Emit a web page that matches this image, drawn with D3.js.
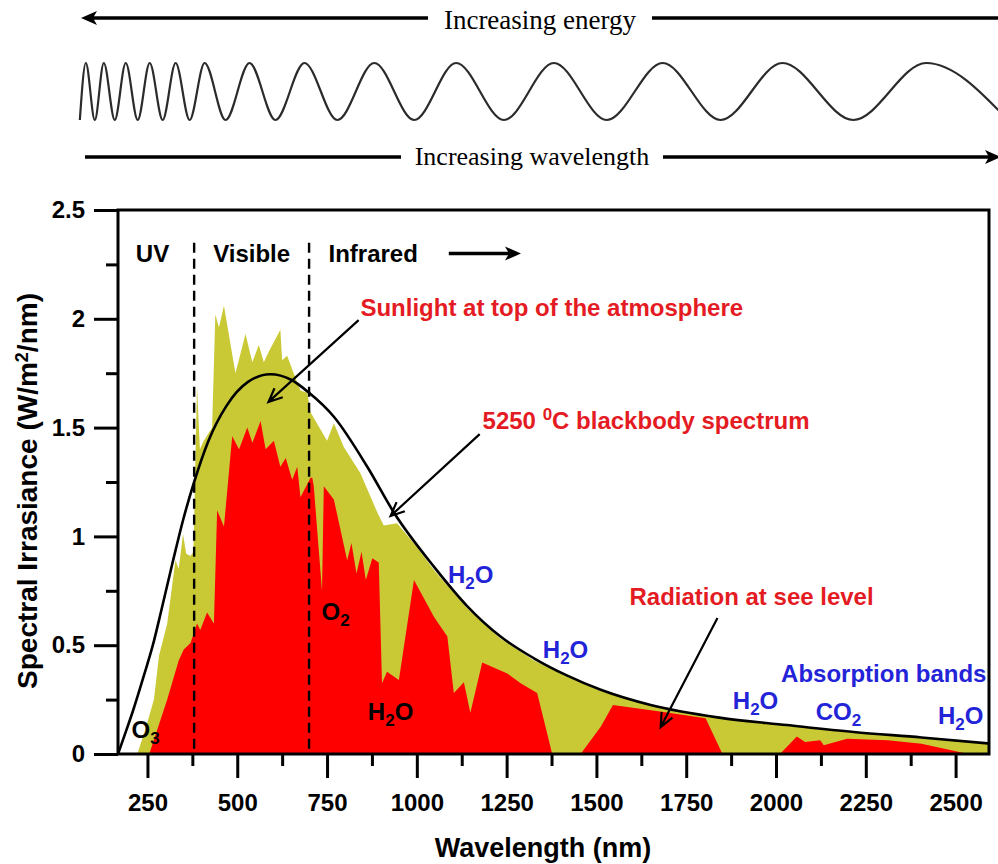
<!DOCTYPE html>
<html>
<head>
<meta charset="utf-8">
<script src="https://cdn.jsdelivr.net/npm/d3@7"></script>
<style>
  html, body { margin: 0; padding: 0; background: #fff; }
  svg { display: block; }
</style>
</head>
<body>
<div id="chart"></div>
<script>
// ---- data ----
// 5250 C blackbody curve (nm, W/m2/nm)
const bbNm  = [168, 185, 210, 240, 265, 290, 320, 350, 380, 420, 470, 530, 592, 650, 700, 769, 862, 936, 1048, 1140, 1233, 1326, 1419, 1512, 1651, 1842, 2030, 2216, 2405, 2600];
const bbVal = [0, 0.08, 0.2, 0.36, 0.5, 0.67, 0.88, 1.08, 1.25, 1.44, 1.6, 1.71, 1.745, 1.72, 1.66, 1.55, 1.32, 1.11, 0.86, 0.68, 0.54, 0.44, 0.36, 0.295, 0.225, 0.167, 0.133, 0.101, 0.076, 0.047];

// sunlight at top of the atmosphere
const toaNm  = [222, 249, 268, 282, 305, 328, 337, 349, 358, 370, 378, 388, 396, 407, 430, 439, 449, 463, 495, 523, 542, 560, 574, 588, 620, 625, 639, 657, 676, 695, 704, 750, 769, 797, 843, 890, 908, 945, 1001, 1048, 1140, 1233, 1326, 1419, 1512, 1560, 1651, 1842, 2030, 2216, 2405, 2600];
const toaVal = [0, 0.14, 0.25, 0.45, 0.6, 0.89, 0.85, 1.01, 0.92, 0.91, 0.93, 1.69, 1.4, 1.44, 1.5, 2.02, 1.96, 2.06, 1.75, 1.93, 1.8, 1.88, 1.8, 1.85, 1.95, 1.81, 1.83, 1.75, 1.67, 1.66, 1.57, 1.44, 1.52, 1.41, 1.29, 1.11, 1.05, 1.06, 0.95, 0.845, 0.67, 0.53, 0.43, 0.355, 0.29, 0.27, 0.225, 0.165, 0.13, 0.098, 0.075, 0.045];

// radiation at sea level
const seaNm  = [255, 305, 337, 351, 370, 388, 397, 416, 435, 444, 463, 486, 505, 528, 542, 565, 579, 602, 620, 635, 653, 667, 676, 704, 709, 713, 736, 741, 769, 806, 818, 832, 846, 858, 876, 894, 903, 917, 950, 992, 1048, 1085, 1103, 1131, 1149, 1182, 1252, 1289, 1335, 1377, 1456, 1512, 1546, 1682, 1804, 1851, 2011, 2058, 2081, 2123, 2133, 2198, 2311, 2405, 2536];
const seaVal = [0, 0.25, 0.43, 0.48, 0.51, 0.6, 0.57, 0.65, 0.6, 1.12, 1.045, 1.46, 1.4, 1.5, 1.43, 1.53, 1.4, 1.44, 1.32, 1.36, 1.26, 1.32, 1.18, 1.27, 1.27, 1.23, 0.75, 1.23, 1.17, 0.89, 0.97, 0.83, 0.93, 0.8, 0.9, 0.88, 0.325, 0.378, 0.34, 0.8, 0.63, 0.54, 0.28, 0.33, 0.19, 0.42, 0.37, 0.325, 0.28, 0, 0, 0.125, 0.225, 0.194, 0.164, 0, 0, 0.08, 0.055, 0.063, 0.04, 0.07, 0.063, 0.047, 0];

const bandEdges = [380, 700];                 // UV | Visible | Infrared
const xMajor = [250, 500, 750, 1000, 1250, 1500, 1750, 2000, 2250, 2500];
const xMinor = [375, 625, 875, 1125, 1375, 1625, 1875, 2125, 2375];
const yMajor = [0, 0.5, 1, 1.5, 2, 2.5];
const yMinor = [0.25, 0.75, 1.25, 1.75, 2.25];

// header wave: alternating trough / crest positions (0..1000 across the page)
const waveExtrema = [80, 86, 95, 104, 115, 126, 138, 150, 163, 176, 190, 205, 226, 250, 276, 305, 338, 375, 415, 457, 505, 555, 608, 664, 722, 784, 855, 928, 1010];

const W = 998, H = 864;
const SANS = "'Liberation Sans', Arial, Helvetica, sans-serif";
const SERIF = "'Liberation Serif', 'Times New Roman', serif";
const RED_TXT = "#e41b22", BLUE_TXT = "#2323d8";

let svg = d3.select("#chart").append("svg")
    .attr("width", W)
    .attr("height", H);

// ---- header: energy / wavelength arrows and the wave ----
let hx = d3.scaleLinear().domain([0, 1000]).range([0, 998]);

function headArrow(g, x1, x2, y, tipAt) {
    g.append("line")
        .attr("x1", x1).attr("x2", x2).attr("y1", y).attr("y2", y)
        .attr("stroke", "#000").attr("stroke-width", 3.5);
    if (tipAt != null) {
        let dir = tipAt < x1 ? -1 : 1;
        g.append("path")
            .attr("d", `M${tipAt},${y} L${tipAt - dir * 16},${y - 7} L${tipAt - dir * 12},${y} L${tipAt - dir * 16},${y + 7} Z`)
            .attr("fill", "#000");
    }
}

let header = svg.append("g");
headArrow(header, 92, 428, 18, 81);
headArrow(header, 652, 1000, 18, null);
header.append("text")
    .attr("x", 540).attr("y", 29)
    .attr("text-anchor", "middle")
    .style("font-family", SERIF).style("font-size", "27px")
    .text("Increasing energy");

headArrow(header, 85, 401, 157, null);
headArrow(header, 663, 990, 157, 1001);
header.append("text")
    .attr("x", 532).attr("y", 165)
    .attr("text-anchor", "middle")
    .style("font-family", SERIF).style("font-size", "26px")
    .text("Increasing wavelength");

let waveY = d3.scaleLinear().domain([-1, 1]).range([120, 63]);
let wavePts = waveExtrema.map((p, i) => [hx(p), waveY(i % 2 === 0 ? -1 : 1)]);
header.append("path")
    .attr("d", d3.line().curve(d3.curveMonotoneX)(wavePts))
    .attr("fill", "none")
    .attr("stroke", "#2b2b2b")
    .attr("stroke-width", 2.2);

// ---- main chart ----
let x = d3.scaleLinear().domain([168, 2593]).range([118, 989]);
let y = d3.scaleLinear().domain([0, 2.5]).range([754, 210]);

svg.append("defs").append("clipPath").attr("id", "plotClip")
    .append("rect")
    .attr("x", x.range()[0]).attr("y", y.range()[1])
    .attr("width", x.range()[1] - x.range()[0])
    .attr("height", y.range()[0] - y.range()[1]);

let plot = svg.append("g").attr("clip-path", "url(#plotClip)");

let area = d3.area()
    .x(d => x(d[0]))
    .y0(y(0))
    .y1(d => y(d[1]));

plot.append("path")
    .attr("d", area(d3.zip(toaNm, toaVal)))
    .attr("fill", "#c9c936");

plot.append("path")
    .attr("d", area(d3.zip(seaNm, seaVal)))
    .attr("fill", "#ff0000");

plot.append("path")
    .attr("d", d3.line().x(d => x(d[0])).y(d => y(d[1])).curve(d3.curveMonotoneX)(d3.zip(bbNm, bbVal)))
    .attr("fill", "none")
    .attr("stroke", "#000")
    .attr("stroke-width", 2.6);

plot.selectAll("line.band")
    .data(bandEdges)
    .join("line")
    .attr("class", "band")
    .attr("x1", d => x(d)).attr("x2", d => x(d))
    .attr("y1", y(2.35)).attr("y2", y(0))
    .attr("stroke", "#000")
    .attr("stroke-width", 2.4)
    .attr("stroke-dasharray", "10,6");

// frame
svg.append("rect")
    .attr("x", x.range()[0]).attr("y", y.range()[1])
    .attr("width", x.range()[1] - x.range()[0])
    .attr("height", y.range()[0] - y.range()[1])
    .attr("fill", "none")
    .attr("stroke", "#000")
    .attr("stroke-width", 3);

function styleAxis(g) {
    g.select(".domain").remove();
    g.selectAll(".tick line").attr("stroke", "#000").attr("stroke-width", 3);
    g.selectAll(".tick text")
        .attr("fill", "#000")
        .style("font-family", SANS)
        .style("font-size", "24px")
        .style("font-weight", "bold");
}

svg.append("g")
    .attr("transform", `translate(${x.range()[0]},0)`)
    .call(d3.axisLeft(y).tickValues(yMajor).tickSize(24).tickPadding(9).tickFormat(d => d))
    .call(styleAxis);
svg.append("g")
    .attr("transform", `translate(${x.range()[0]},0)`)
    .call(d3.axisLeft(y).tickValues(yMinor).tickSize(12).tickFormat(""))
    .call(styleAxis);
svg.append("g")
    .attr("transform", `translate(0,${y.range()[0]})`)
    .call(d3.axisBottom(x).tickValues(xMajor).tickSize(24).tickPadding(16).tickFormat(d => d))
    .call(styleAxis);
svg.append("g")
    .attr("transform", `translate(0,${y.range()[0]})`)
    .call(d3.axisBottom(x).tickValues(xMinor).tickSize(12).tickFormat(""))
    .call(styleAxis);

// axis titles
let yTitle = svg.append("text")
    .attr("transform", `translate(37,${(y.range()[0] + y.range()[1]) / 2 + 9}) rotate(-90)`)
    .attr("text-anchor", "middle")
    .style("font-family", SANS).style("font-size", "28px").style("font-weight", "bold");
yTitle.append("tspan").text("Spectral Irrasiance (W/m");
yTitle.append("tspan").attr("dy", -9).style("font-size", "18px").text("2");
yTitle.append("tspan").attr("dy", 9).text("/nm)");

svg.append("text")
    .attr("x", 543).attr("y", 857)
    .attr("text-anchor", "middle")
    .style("font-family", SANS).style("font-size", "27px").style("font-weight", "bold")
    .text("Wavelength (nm)");

// ---- annotations (placed in data units) ----
let notes = svg.append("g")
    .style("font-family", SANS)
    .style("font-size", "24px")
    .style("font-weight", "bold");

// parts: [text, "sub" | "sup" | null]
function label(nm, val, parts, color, anchor) {
    let t = notes.append("text")
        .attr("x", x(nm)).attr("y", y(val))
        .attr("text-anchor", anchor || "middle")
        .attr("fill", color);
    let shift = 0;
    parts.forEach(([str, kind]) => {
        let ts = t.append("tspan").text(str);
        let want = kind === "sub" ? 6 : kind === "sup" ? -9 : 0;
        if (want !== shift) ts.attr("dy", want - shift);
        if (kind) ts.style("font-size", "17px");
        shift = want;
    });
    return t;
}

function pointer(nm1, v1, nm2, v2) {
    let x1 = x(nm1), y1 = y(v1), x2 = x(nm2), y2 = y(v2);
    let a = Math.atan2(y2 - y1, x2 - x1);
    let len = 15, spread = 0.42;
    notes.append("path")
        .attr("d", `M${x1},${y1} L${x2},${y2}
            M${x2 - len * Math.cos(a - spread)},${y2 - len * Math.sin(a - spread)} L${x2},${y2}
            L${x2 - len * Math.cos(a + spread)},${y2 - len * Math.sin(a + spread)}`)
        .attr("fill", "none")
        .attr("stroke", "#000")
        .attr("stroke-width", 2.2);
}

label(264, 2.26, [["UV"]], "#000");
label(540, 2.26, [["Visible"]], "#000");
label(754, 2.26, [["Infrared"]], "#000", "start");
notes.append("line")
    .attr("x1", x(1089)).attr("x2", x(1268))
    .attr("y1", y(2.3)).attr("y2", y(2.3))
    .attr("stroke", "#000").attr("stroke-width", 3.5);
notes.append("path")
    .attr("d", `M${x(1290)},${y(2.3)} l-16,-7 l4,7 l-4,7 Z`)
    .attr("fill", "#000");

label(843, 2.013, [["Sunlight at top of the atmosphere"]], RED_TXT, "start");
pointer(838, 1.994, 587, 1.618);

label(1183, 1.494, [["5250 "], ["0", "sup"], ["C blackbody spectrum"]], RED_TXT, "start");
pointer(1175, 1.47, 927, 1.094);

label(1932, 0.685, [["Radiation at see level"]], RED_TXT);
pointer(1837, 0.625, 1679, 0.124);

label(2300, 0.331, [["Absorption bands"]], BLUE_TXT);
label(1150, 0.786, [["H"], ["2", "sub"], ["O"]], BLUE_TXT);
label(1414, 0.441, [["H"], ["2", "sub"], ["O"]], BLUE_TXT);
label(1943, 0.207, [["H"], ["2", "sub"], ["O"]], BLUE_TXT);
label(2174, 0.156, [["CO"], ["2", "sub"]], BLUE_TXT);
label(2514, 0.138, [["H"], ["2", "sub"], ["O"]], BLUE_TXT);

label(774, 0.616, [["O"], ["2", "sub"]], "#000");
label(927, 0.156, [["H"], ["2", "sub"], ["O"]], "#000");
label(245, 0.074, [["O"], ["3", "sub"]], "#000");
</script>
</body>
</html>
